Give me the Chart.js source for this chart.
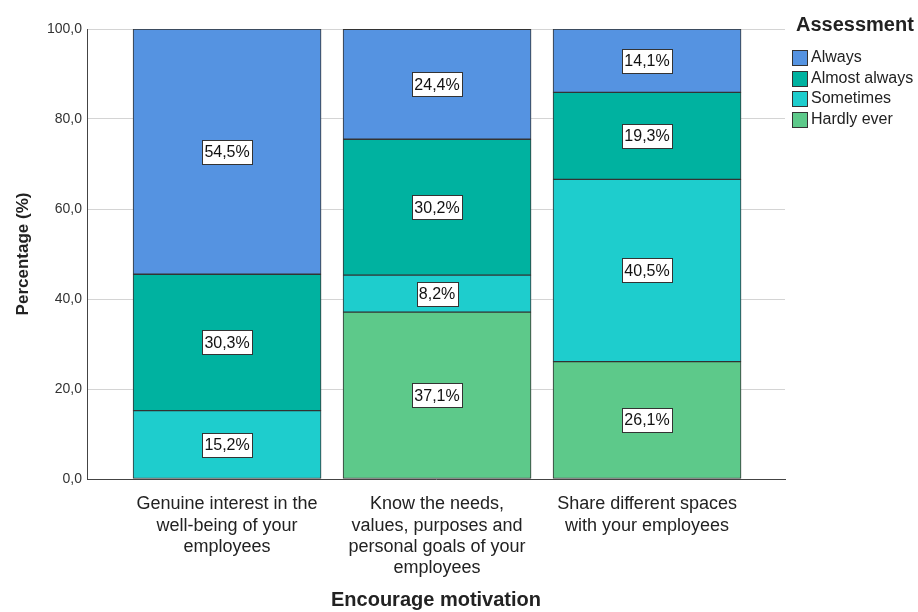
<!DOCTYPE html>
<html>
<head>
<meta charset="utf-8">
<script src="https://cdn.jsdelivr.net/npm/chart.js@4"></script>
<style>
  html, body { margin: 0; padding: 0; background: #ffffff; }
  #wrap { width: 918px; height: 612px; }
</style>
</head>
<body>
<div id="wrap"><canvas id="motivation-chart" width="918" height="612"></canvas></div>
<script>
// categories (x axis), one label line per array entry
const categories = [
    ['Genuine interest in the', 'well-being of your', 'employees'],
    ['Know the needs,', 'values, purposes and', 'personal goals of your', 'employees'],
    ['Share different spaces', 'with your employees']
];

// series, bottom of the stack first
const hardlyEver = [0, 37.1, 26.1];
const sometimes = [15.2, 8.2, 40.5];
const almostAlways = [30.3, 30.2, 19.3];
const always = [54.5, 24.4, 14.1];

const yTicks = [0, 20, 40, 60, 80, 100];

const legendTitle = 'Assessment';
const xTitle = 'Encourage motivation';
const yTitle = 'Percentage (%)';

const FONT = '"Liberation Sans", Arial, sans-serif';

function toPoints(values) {
    return values.map((v, i) => ({ x: i, y: v }));
}

function commaFmt(v, digits) {
    return v.toFixed(digits).replace('.', ',');
}

// white boxed value labels in the middle of each segment
const segmentLabels = {
    id: 'segmentLabels',
    afterDatasetsDraw(chart) {
        const ctx = chart.ctx;
        ctx.save();
        ctx.font = '16px ' + FONT;
        ctx.textAlign = 'center';
        ctx.textBaseline = 'middle';
        chart.data.datasets.forEach((ds, di) => {
            const meta = chart.getDatasetMeta(di);
            meta.data.forEach((bar, i) => {
                const v = ds.data[i].y;
                if (!v) return;
                const txt = commaFmt(v, 1) + '%';
                const cy = (bar.y + bar.base) / 2;
                const w = Math.round(ctx.measureText(txt).width + 5);
                const h = 24;
                const bx = Math.round(bar.x - w / 2) + 0.5;
                const by = Math.round(cy - h / 2) + 0.5;
                ctx.fillStyle = '#ffffff';
                ctx.fillRect(bx, by, w, h);
                ctx.strokeStyle = '#333333';
                ctx.lineWidth = 1;
                ctx.strokeRect(bx, by, w, h);
                ctx.fillStyle = '#111111';
                ctx.fillText(txt, bar.x, cy + 1);
            });
        });
        ctx.restore();
    }
};

// legend on the right, top item = top of the stack
const sideLegend = {
    id: 'sideLegend',
    afterDraw(chart) {
        const ctx = chart.ctx;
        const x0 = chart.chartArea.right + 7;
        ctx.save();
        ctx.textBaseline = 'middle';
        ctx.fillStyle = '#222222';
        ctx.font = 'bold 20px ' + FONT;
        ctx.fillText(legendTitle, x0 + 4, 25);
        ctx.font = '16px ' + FONT;
        const items = chart.data.datasets.slice().reverse();
        items.forEach((ds, i) => {
            const y = 57 + i * 20.5;
            ctx.fillStyle = ds.backgroundColor;
            ctx.fillRect(x0 + 0.5, Math.round(y - 7) + 0.5, 15, 15);
            ctx.strokeStyle = '#333333';
            ctx.lineWidth = 1;
            ctx.strokeRect(x0 + 0.5, Math.round(y - 7) + 0.5, 15, 15);
            ctx.fillStyle = '#222222';
            ctx.fillText(ds.label, x0 + 19, y + 1);
        });
        ctx.restore();
    }
};

function makeSet(label, values, color) {
    return {
        label: label,
        data: toPoints(values),
        backgroundColor: color,
        borderColor: '#333333',
        borderWidth: 1,
        borderSkipped: false,
        barThickness: 188
    };
}

const ctx = document.getElementById('motivation-chart').getContext('2d');

new Chart(ctx, {
    type: 'bar',
    data: {
        datasets: [
            makeSet('Hardly ever', hardlyEver, '#5dc98a'),
            makeSet('Sometimes', sometimes, '#1ecdcd'),
            makeSet('Almost always', almostAlways, '#00b2a0'),
            makeSet('Always', always, '#5593e1')
        ]
    },
    options: {
        responsive: false,
        animation: false,
        devicePixelRatio: 1,
        layout: {
            padding: { left: 0, right: 133, top: 29, bottom: 0 }
        },
        plugins: {
            legend: { display: false },
            tooltip: { enabled: false }
        },
        scales: {
            x: {
                type: 'linear',
                stacked: true,
                offset: false,
                min: -0.667,
                max: 2.657,
                afterFit(scale) { scale.height = 133; },
                afterBuildTicks(scale) {
                    scale.ticks = categories.map((c, i) => ({ value: i }));
                },
                grid: { display: false, offset: false },
                border: { display: true, color: '#444444', width: 1 },
                ticks: {
                    autoSkip: false,
                    maxRotation: 0,
                    padding: 7,
                    color: '#222222',
                    font: { family: FONT, size: 18, lineHeight: 1.17 },
                    callback: (v) => categories[v] || ''
                },
                title: {
                    display: true,
                    text: xTitle,
                    color: '#222222',
                    padding: { top: 0, bottom: 0 },
                    font: { family: FONT, size: 20, weight: 'bold' }
                }
            },
            y: {
                stacked: true,
                min: 0,
                max: 100,
                afterFit(scale) { scale.width = 87; },
                afterBuildTicks(scale) {
                    scale.ticks = yTicks.map(v => ({ value: v }));
                },
                grid: { color: '#d4d4d4', lineWidth: 1, drawTicks: false },
                border: { display: true, color: '#444444', width: 1 },
                ticks: {
                    padding: 5,
                    color: '#333333',
                    font: { family: FONT, size: 14 },
                    callback: (v) => commaFmt(v, 1)
                },
                title: {
                    display: true,
                    text: yTitle,
                    color: '#222222',
                    padding: { top: 13, bottom: 0 },
                    font: { family: FONT, size: 17, weight: 'bold' }
                }
            }
        }
    },
    plugins: [segmentLabels, sideLegend]
});
</script>
</body>
</html>
